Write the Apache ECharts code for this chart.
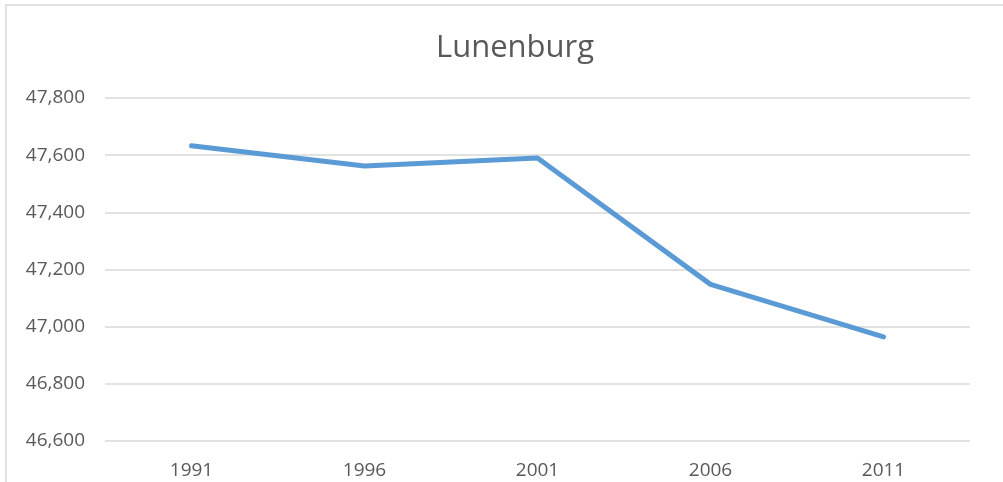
<!DOCTYPE html>
<html><head><meta charset="utf-8">
<script src="https://cdn.jsdelivr.net/npm/echarts@6/dist/echarts.min.js"></script>
<style>html,body{margin:0;padding:0;background:#fff}#c{width:1003px;height:482px}</style>
</head><body><div id="c"></div>
<script>
const categories = ['1991','1996','2001','2006','2011'];
const population = [47633, 47562, 47590, 47148, 46964];
const chartTitle = 'Lunenburg';
const yMin = 46600, yMax = 47800, yStep = 200;

const chart = echarts.init(document.getElementById('c'), null, {renderer:'canvas'});
chart.setOption({
  animation: false,
  backgroundColor: '#fff',
  graphic: [{type:'rect', shape:{x:6, y:5, width:1100, height:600}, style:{fill:'none', stroke:'#d9d9d9', lineWidth:1.5}, z:-1}],
  title: {text: chartTitle, left: 431, top: 28, textStyle:{fontFamily:'Open Sans', fontSize:31, fontWeight:'normal', color:'#595959'}},
  grid: {left:105, right:33, top:98, bottom:41, containLabel:false},
  xAxis: {type:'category', data: categories, boundaryGap:true,
    axisLine:{show:false}, axisTick:{show:false},
    axisLabel:{fontFamily:'Open Sans', fontSize:19, color:'#595959', margin:20}},
  yAxis: {type:'value', min:yMin, max:yMax, interval:yStep,
    axisLine:{show:false}, axisTick:{show:false},
    splitLine:{lineStyle:{color:'#d9d9d9', width:1.5}},
    axisLabel:{fontFamily:'Open Sans', fontSize:19, color:'#595959', margin:20,
      formatter: v => v.toLocaleString('en-US')}},
  series: [{type:'line', data: population, showSymbol:false, symbol:'none',
    lineStyle:{color:'#5b9bd5', width:5, cap:'round', join:'round'}}]
});
</script></body></html>
